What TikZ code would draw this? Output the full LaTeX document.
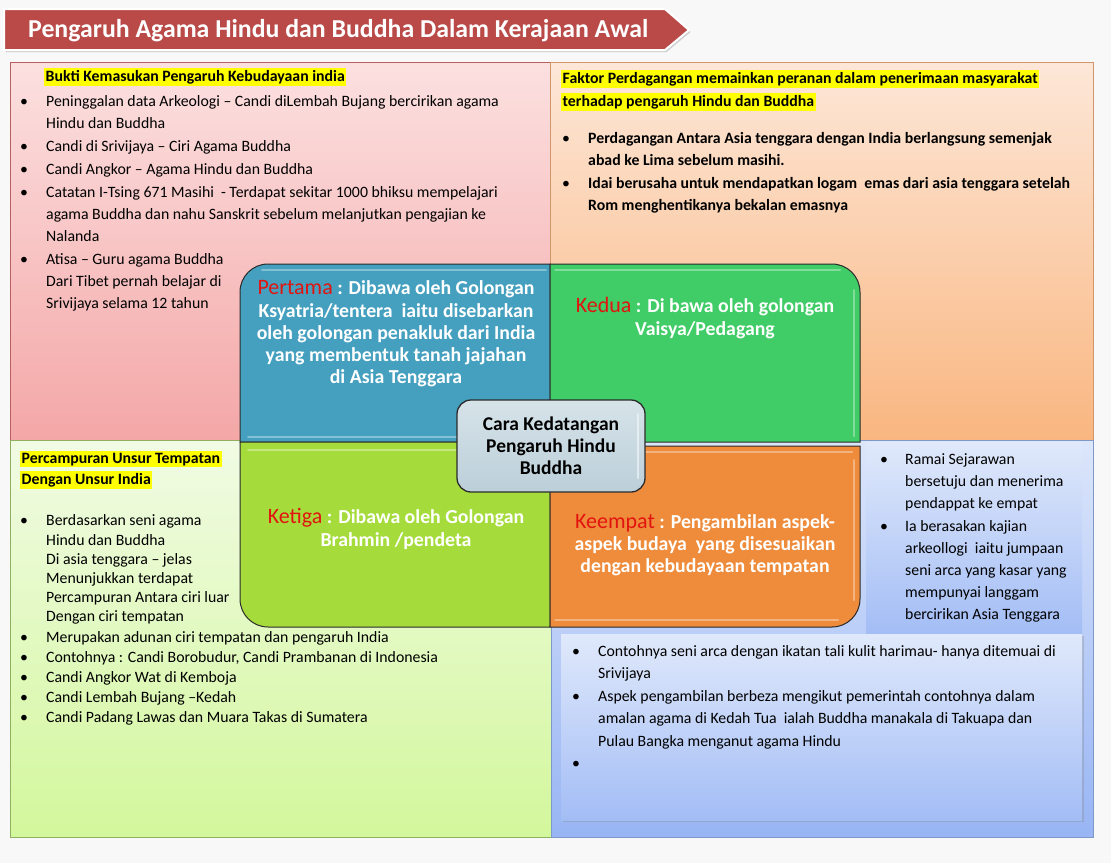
\documentclass[tikz,border=0pt]{standalone}
\usepackage{fontspec}
\setmainfont{Carlito}
\usetikzlibrary{shadows}
\definecolor{pagebg}{HTML}{F8F8F8}
\definecolor{banner}{HTML}{B94A48}
\definecolor{hly}{HTML}{FFFF00}
\definecolor{labred}{HTML}{E2140F}
\definecolor{qtl}{HTML}{45A0BF}
\definecolor{qtr}{HTML}{40CC66}
\definecolor{qbl}{HTML}{A5DC3B}
\definecolor{qbr}{HTML}{EF8C3C}
\definecolor{qline}{HTML}{2B2B2B}
\definecolor{redline}{HTML}{B86060}
\definecolor{orline}{HTML}{D0956A}
\definecolor{grline}{HTML}{8FB060}
\definecolor{blline}{HTML}{7E98C8}
\definecolor{tlT}{HTML}{FCE0E0}\definecolor{tlB}{HTML}{F4A7A7}
\definecolor{trT}{HTML}{FDE7D8}\definecolor{trB}{HTML}{F9B680}
\definecolor{blT}{HTML}{F1FBE4}\definecolor{blB}{HTML}{D3F79C}
\definecolor{brT}{HTML}{DCE6FB}\definecolor{brB}{HTML}{98B5F4}
\definecolor{inT}{HTML}{E0E9FB}\definecolor{inB}{HTML}{A3BDF5}
\definecolor{cbT}{HTML}{D6E3E9}\definecolor{cbB}{HTML}{BCCFD9}
\newcommand\lbl[1]{{\fontsize{22}{22.3}\selectfont\mdseries\textcolor{labred}{#1}}}
\begin{document}
\begin{tikzpicture}[x=1pt,y=1pt,
  body/.style={anchor=base west,inner sep=0pt,font=\fontsize{15.8}{18}\selectfont},
  bodyb/.style={body,font=\fontsize{15.8}{18}\selectfont\bfseries},
  bul/.style={anchor=base west,inner sep=0pt,font=\fontsize{15.8}{18}\selectfont},
  hl/.style={anchor=base west,fill=hly,inner xsep=1.5pt,inner ysep=2pt,font=\fontsize{15.8}{18}\selectfont\bfseries},
  qtext/.style={align=center,text=white,inner sep=0pt,font=\fontsize{19.8}{22.3}\selectfont\bfseries},
  panel/.style={draw=#1,line width=0.6pt},
  gloss/.style={line width=2pt,line cap=round,draw=white,opacity=0.35}]
\useasboundingbox (0,0) rectangle (1111,-863);
\fill[pagebg] (0,0) rectangle (1111,-863);

% title banner
\path[fill=banner,draw=white,line width=2pt,drop shadow={opacity=0.35,shadow xshift=1.5pt,shadow yshift=-2pt}]
  (4,-9) -- (665,-9) -- (689,-30) -- (665,-50) -- (4,-50) -- cycle;
\node[text=white,font=\fontsize{25.8}{28}\selectfont\bfseries,anchor=base west,inner sep=0pt] (title) at (28,-37) {Pengaruh Agama Hindu dan Buddha Dalam Kerajaan Awal};

% four panels
\path[panel=redline,top color=tlT,bottom color=tlB] (10,-62) rectangle (550,-440);
\path[panel=orline,top color=trT,bottom color=trB] (550,-62) rectangle (1093,-440);
\path[panel=grline,top color=blT,bottom color=blB] (10,-440) rectangle (551,-837);
\path[panel=blline,top color=brT,bottom color=brB] (551,-440) rectangle (1093,-837);
% inner blue boxes
\path[top color=inT,bottom color=inB] (866,-442) rectangle (1082,-634);
\path[top color=inT,bottom color=inB,drop shadow={opacity=0.3,shadow xshift=1.5pt,shadow yshift=-2pt}] (561,-634) rectangle (1082,-820);

% top-left text
\node[hl] (h1) at (44,-81) {Bukti Kemasukan Pengaruh Kebudayaan india};
\foreach \y/\t [count=\i] in {101/{Peninggalan data Arkeologi – Candi diLembah Bujang bercirikan agama},123/{Hindu dan Buddha},146/{Candi di Srivijaya – Ciri Agama Buddha},169/{Candi Angkor – Agama Hindu dan Buddha},192/{Catatan I-Tsing 671 Masihi \ - Terdapat sekitar 1000 bhiksu mempelajari},214/{agama Buddha dan nahu Sanskrit sebelum melanjutkan pengajian ke},236/{Nalanda},259/{Atisa – Guru agama Buddha},281/{Dari Tibet pernah belajar di},303/{Srivijaya selama 12 tahun}}
  {\node[body] (tl\i) at (46,-\y-5) {\t};}
\foreach \y [count=\i] in {101,146,169,192,259}
  {\node[bul] (tlb\i) at (20,-\y-5) {•};}

% top-right text
\node[hl] (h2) at (561,-83) {Faktor Perdagangan memainkan peranan dalam penerimaan masyarakat};
\node[hl] (h3) at (561,-106) {terhadap pengaruh Hindu dan Buddha};
\foreach \y/\t [count=\i] in {138/{Perdagangan Antara Asia tenggara dengan India berlangsung semenjak},160/{abad ke Lima sebelum masihi.},183/{Idai berusaha untuk mendapatkan logam \ emas dari asia tenggara setelah},205/{Rom menghentikanya bekalan emasnya}}
  {\node[bodyb] (tr\i) at (588,-\y-5) {\t};}
\foreach \y [count=\i] in {138,183}
  {\node[bul] (trb\i) at (562,-\y-5) {•};}

% bottom-left text
\node[hl] (h4) at (20,-463) {Percampuran Unsur Tempatan};
\node[hl] (h5) at (20,-484) {Dengan Unsur India};
\foreach \y/\t [count=\i] in {520/{Berdasarkan seni agama},540/{Hindu dan Buddha},559/{Di asia tenggara – jelas},578/{Menunjukkan terdapat},597/{Percampuran Antara ciri luar},616/{Dengan ciri tempatan},637/{Merupakan adunan ciri tempatan dan pengaruh India},657/{Contohnya : Candi Borobudur, Candi Prambanan di Indonesia},677/{Candi Angkor Wat di Kemboja},697/{Candi Lembah Bujang –Kedah},717/{Candi Padang Lawas dan Muara Takas di Sumatera}}
  {\node[body] (bl\i) at (46,-\y-5) {\t};}
\foreach \y [count=\i] in {520,637,657,677,697,717}
  {\node[bul] (blb\i) at (20,-\y-5) {•};}

% bottom-right column text
\foreach \y/\t [count=\i] in {459/{Ramai Sejarawan},481/{bersetuju dan menerima},503/{pendappat ke empat},526/{Ia berasakan kajian},548/{arkeollogi \ iaitu jumpaan},570/{seni arca yang kasar yang},592/{mempunyai langgam},614/{bercirikan Asia Tenggara}}
  {\node[body] (bc\i) at (905,-\y-5) {\t};}
\foreach \y [count=\i] in {459,526}
  {\node[bul] (bcb\i) at (880,-\y-5) {•};}

% bottom-right lower box text
\foreach \y/\t [count=\i] in {651/{Contohnya seni arca dengan ikatan tali kulit harimau- hanya ditemuai di},673/{Srivijaya},696/{Aspek pengambilan berbeza mengikut pemerintah contohnya dalam},718/{amalan agama di Kedah Tua \ ialah Buddha manakala di Takuapa dan},741/{Pulau Bangka menganut agama Hindu}}
  {\node[body] (bb\i) at (598,-\y-5) {\t};}
\foreach \y [count=\i] in {651,696,763}
  {\node[bul] (bbb\i) at (572,-\y-5) {•};}

% central quadrants
\path[fill=qtl,draw=qline,line width=1pt] (550,-264) -- (268,-264) arc[start angle=90,end angle=180,radius=28] -- (240,-442) -- (550,-442) -- cycle;
\path[fill=qtr,draw=qline,line width=1pt] (550,-264) -- (832,-264) arc[start angle=90,end angle=0,radius=28] -- (860,-442) -- (550,-442) -- cycle;
\path[fill=qbl,draw=qline,line width=1pt] (240,-442) -- (240,-599) arc[start angle=180,end angle=270,radius=28] -- (550,-627) -- (550,-442) -- cycle;
\path[fill=qbr,draw=qline,line width=1pt] (860,-446) -- (860,-599) arc[start angle=0,end angle=-90,radius=28] -- (550,-627) -- (550,-446) -- cycle;
% gloss highlights
\draw[gloss] (262,-270) -- (546,-270);
\draw[gloss] (248,-437) -- (546,-437);
\draw[gloss] (555,-270) -- (840,-270);
\draw[gloss] (854,-290) -- (854,-436);
\draw[gloss] (248,-450) -- (546,-450);
\draw[gloss] (555,-452) -- (852,-452);
\draw[gloss] (555,-620) -- (838,-620);
\draw[gloss] (854,-460) -- (854,-600);

\node[qtext] (q1) at (396,-334) {\lbl{Pertama} : Dibawa oleh Golongan\\Ksyatria/tentera \ iaitu disebarkan\\oleh golongan penakluk dari India\\yang membentuk tanah jajahan\\di Asia Tenggara};
\node[qtext] (q2) at (705,-318) {\lbl{Kedua} : Di bawa oleh golongan\\Vaisya/Pedagang};
\node[qtext] (q3) at (396,-529) {\lbl{Ketiga} : Dibawa oleh Golongan\\Brahmin /pendeta};
\node[qtext] (q4) at (705,-545) {\lbl{Keempat} : Pengambilan aspek-\\aspek budaya \ yang disesuaikan\\dengan kebudayaan tempatan};

% center box
\path[draw=qline,line width=1.3pt,rounded corners=14pt,top color=cbT,bottom color=cbB] (457,-400) rectangle (645,-492);
\draw[gloss,opacity=0.5] (638,-414) -- (638,-478);
\node[align=center,inner sep=0pt,font=\fontsize{19.5}{22}\selectfont\bfseries] (cbox) at (551,-446) {Cara Kedatangan\\Pengaruh Hindu\\Buddha};
\end{tikzpicture}
\end{document}
